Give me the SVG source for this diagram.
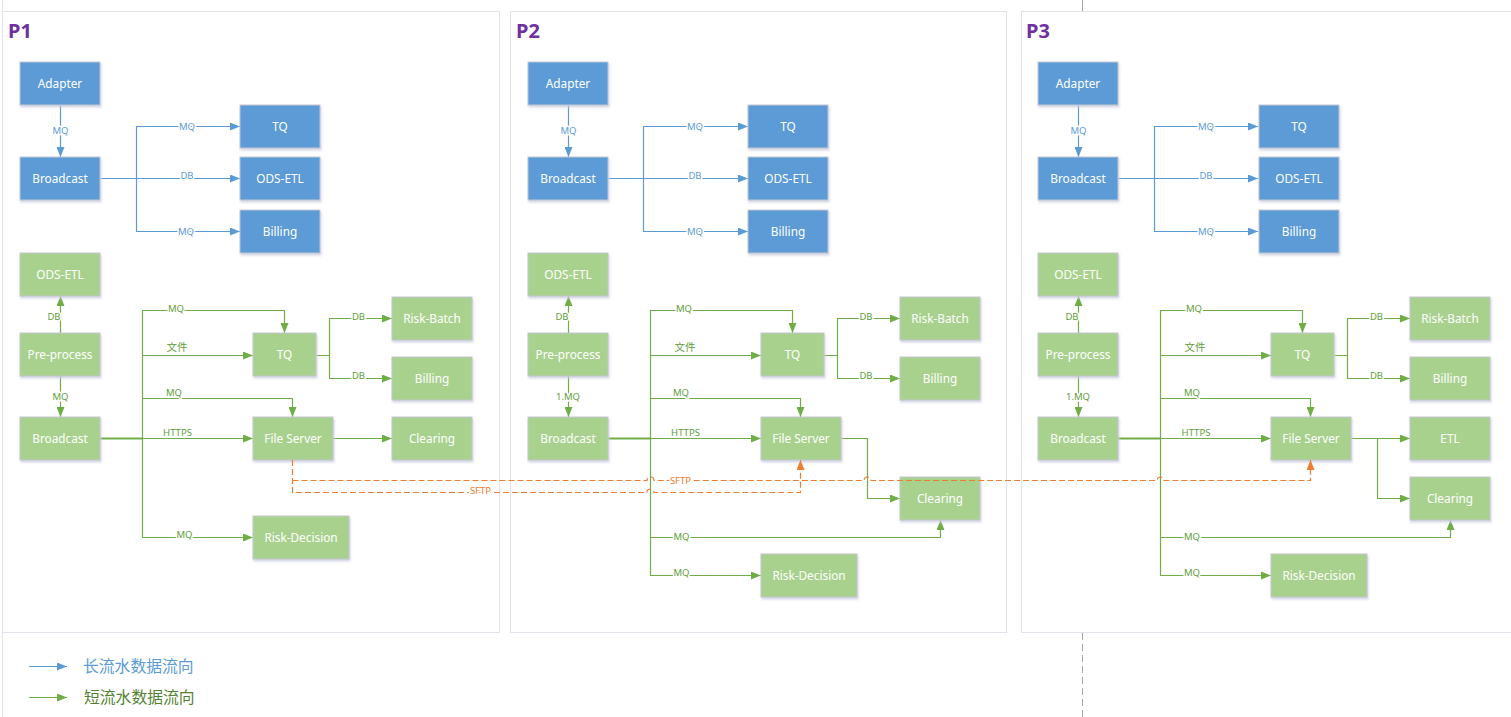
<svg xmlns="http://www.w3.org/2000/svg" width="1511" height="717" viewBox="0 0 1511 717">
  <defs>
    <style>
      .frame { fill: none; stroke: #E2E2EA; stroke-width: 1; }
      .title { font-family: "Noto Sans", "Open Sans", sans-serif; font-weight: bold; font-size: 20px; fill: #7030A0; }
      .bx rect { stroke: #C4C6CF; stroke-width: 1; filter: url(#sh); }
      .b rect { fill: #5B9BD5; }
      .g rect { fill: #A9D18E; }
      .bx text { font-family: "Noto Sans", "Open Sans", sans-serif; font-size: 11.8px; fill: #FFFFFF; text-anchor: middle; }
      .cb, .cg, .co { fill: none; stroke-width: 1.2; }
      .cb { stroke: #5B9BD5; marker-end: url(#ab); }
      .cg { stroke: #70AD47; marker-end: url(#ag); }
      .thick { stroke-width: 1.8; }
      .co { stroke: #ED7D31; stroke-dasharray: 6 3; marker-end: url(#ao); }
      .lbl { font-family: "Noto Sans", "Open Sans", "Noto Sans CJK SC", sans-serif; font-size: 9.5px; text-anchor: middle; stroke: #FFFFFF; stroke-width: 3; stroke-linejoin: round; paint-order: stroke; }
      .lb { fill: #5B9BD5; }
      .lg { fill: #5E9E3A; }
      .lo { fill: #ED7D31; }
      .cjk { font-family: "Noto Sans CJK SC", sans-serif; font-size: 10.5px; stroke: none; }
      .leg { font-family: "Noto Sans CJK SC", sans-serif; font-size: 15.8px; }
    </style>
    <filter id="sh" x="-10%" y="-10%" width="130%" height="140%">
      <feDropShadow dx="1" dy="2" stdDeviation="1" flood-color="#C9CCE0" flood-opacity="0.8"/>
    </filter>
    <marker id="ab" viewBox="0 0 10 8" markerUnits="userSpaceOnUse" markerWidth="10" markerHeight="8" refX="10" refY="4" orient="auto">
      <path d="M0,0 L10,4 L0,8 z" fill="#5B9BD5"/>
    </marker>
    <marker id="ag" viewBox="0 0 10 8" markerUnits="userSpaceOnUse" markerWidth="10" markerHeight="8" refX="10" refY="4" orient="auto">
      <path d="M0,0 L10,4 L0,8 z" fill="#70AD47"/>
    </marker>
    <marker id="ao" viewBox="0 0 10 8" markerUnits="userSpaceOnUse" markerWidth="10" markerHeight="8" refX="10" refY="4" orient="auto">
      <path d="M0,0 L10,4 L0,8 z" fill="#ED7D31"/>
    </marker>
  </defs>

  <rect width="1511" height="717" fill="#FFFFFF"/>

  <!-- page margin and panel frames -->
  <path d="M2.5,0 V717" class="frame"/>
  <rect x="2.5" y="11.5" width="497" height="621" class="frame"/>
  <rect x="510.5" y="11.5" width="496" height="621" class="frame"/>
  <rect x="1021.5" y="11.5" width="500" height="621" class="frame"/>
  <path d="M1082.5,0 V11" stroke="#A6A6A6" stroke-width="1" fill="none"/>
  <path d="M1082.5,633 V717" stroke="#A6A6A6" stroke-width="1" stroke-dasharray="7 4" fill="none"/>

  <!-- ============ P1 ============ -->
  <g id="panel-p1">
    <text x="8" y="38" class="title">P1</text>
    <g id="p1-connectors">
      <path class="cb" d="M60.5,105 V157"/>
      <path class="cb" d="M100,178.5 H240"/>
      <path class="cb" d="M136.5,178.5 V126.5 H240"/>
      <path class="cb" d="M136.5,178.5 V231.5 H240"/>
      <text class="lbl lb" x="60.5" y="133.5">MQ</text>
      <text class="lbl lb" x="187" y="129.8">MQ</text>
      <text class="lbl lb" x="187" y="179">DB</text>
      <text class="lbl lb" x="186" y="234.8">MQ</text>

      <path class="cg" d="M60.5,333 V296"/>
      <path class="cg" d="M60.5,376 V417"/>
      <path class="cg" d="M100,438.5 H253"/>
      <path class="cg thick" d="M100,438.5 H142.5" style="marker-end:none"/>
      <path class="cg" d="M142.5,438.5 V310.5 H284.5 V333"/>
      <path class="cg" d="M142.5,355.5 H253"/>
      <path class="cg" d="M142.5,398.5 H292.5 V417"/>
      <path class="cg" d="M142.5,438.5 V537.5 H253"/>
      <path class="cg" d="M316,355.5 H329.5 V318.5 H392"/>
      <path class="cg" d="M329.5,355.5 V378.5 H392"/>
      <path class="cg" d="M333,438.5 H392"/>
      <text class="lbl lg" x="54" y="320">DB</text>
      <text class="lbl lg" x="60.5" y="400.3">MQ</text>
      <text class="lbl lg" x="176" y="312">MQ</text>
      <text class="lbl lg cjk" x="177" y="351">文件</text>
      <text class="lbl lg" x="174" y="396">MQ</text>
      <text class="lbl lg" x="177.5" y="436">HTTPS</text>
      <text class="lbl lg" x="184.5" y="538">MQ</text>
      <text class="lbl lg" x="358.5" y="320">DB</text>
      <text class="lbl lg" x="358.5" y="379">DB</text>
    </g>
    <g id="p1-adapter" class="bx b"><rect x="20" y="62" width="80" height="43"/><text x="60" y="87.5">Adapter</text></g>
    <g id="p1-broadcast-long" class="bx b"><rect x="20" y="157" width="80" height="43"/><text x="60" y="182.5">Broadcast</text></g>
    <g id="p1-tq-long" class="bx b"><rect x="240" y="105" width="80" height="43"/><text x="280" y="130.5">TQ</text></g>
    <g id="p1-odsetl-long" class="bx b"><rect x="240" y="157" width="80" height="43"/><text x="280" y="182.5">ODS-ETL</text></g>
    <g id="p1-billing-long" class="bx b"><rect x="240" y="210" width="80" height="43"/><text x="280" y="235.5">Billing</text></g>
    <g id="p1-odsetl" class="bx g"><rect x="20" y="253" width="80" height="43"/><text x="60" y="278.5">ODS-ETL</text></g>
    <g id="p1-preprocess" class="bx g"><rect x="20" y="333" width="80" height="43"/><text x="60" y="358.5">Pre-process</text></g>
    <g id="p1-broadcast" class="bx g"><rect x="20" y="417" width="80" height="43"/><text x="60" y="442.5">Broadcast</text></g>
    <g id="p1-tq" class="bx g"><rect x="253" y="333" width="63" height="43"/><text x="284.5" y="358.5">TQ</text></g>
    <g id="p1-fileserver" class="bx g"><rect x="253" y="417" width="80" height="43"/><text x="293" y="442.5">File Server</text></g>
    <g id="p1-riskdecision" class="bx g"><rect x="253" y="516" width="96" height="43"/><text x="301" y="541.5">Risk-Decision</text></g>
    <g id="p1-riskbatch" class="bx g"><rect x="392" y="297" width="80" height="43"/><text x="432" y="322.5">Risk-Batch</text></g>
    <g id="p1-billing" class="bx g"><rect x="392" y="357" width="80" height="43"/><text x="432" y="382.5">Billing</text></g>
    <g id="p1-clearing" class="bx g"><rect x="392" y="417" width="80" height="43"/><text x="432" y="442.5">Clearing</text></g>
  </g>

  <!-- ============ P2 ============ -->
  <g id="panel-p2" transform="translate(508,0)">
    <text x="8" y="38" class="title">P2</text>
    <g id="p2-connectors">
      <path class="cb" d="M60.5,105 V157"/>
      <path class="cb" d="M100,178.5 H240"/>
      <path class="cb" d="M135.5,178.5 V126.5 H240"/>
      <path class="cb" d="M135.5,178.5 V231.5 H240"/>
      <text class="lbl lb" x="60.5" y="133.5">MQ</text>
      <text class="lbl lb" x="187" y="129.8">MQ</text>
      <text class="lbl lb" x="187" y="179">DB</text>
      <text class="lbl lb" x="187" y="234.8">MQ</text>

      <path class="cg" d="M60.5,333 V296"/>
      <path class="cg" d="M60.5,376 V417"/>
      <path class="cg" d="M100,438.5 H253"/>
      <path class="cg thick" d="M100,438.5 H142.5" style="marker-end:none"/>
      <path class="cg" d="M142.5,438.5 V310.5 H284.5 V333"/>
      <path class="cg" d="M142.5,355.5 H253"/>
      <path class="cg" d="M142.5,398.5 H292.5 V417"/>
      <path class="cg" d="M142.5,438.5 V575.5 H253"/>
      <path class="cg" d="M142.5,537.5 H432.5 V520"/>
      <path class="cg" d="M316,355.5 H329.5 V318.5 H392"/>
      <path class="cg" d="M329.5,355.5 V378.5 H392"/>
      <path class="cg" d="M333,438.5 H359.5 V498.5 H392"/>
      <text class="lbl lg" x="54" y="320">DB</text>
      <text class="lbl lg" x="60" y="400.3">1.MQ</text>
      <text class="lbl lg" x="176" y="312">MQ</text>
      <text class="lbl lg cjk" x="177" y="351">文件</text>
      <text class="lbl lg" x="173" y="396">MQ</text>
      <text class="lbl lg" x="177.5" y="436">HTTPS</text>
      <text class="lbl lg" x="173.5" y="540">MQ</text>
      <text class="lbl lg" x="173.5" y="576">MQ</text>
      <text class="lbl lg" x="358" y="320">DB</text>
      <text class="lbl lg" x="358" y="379">DB</text>
    </g>
    <g id="p2-adapter" class="bx b"><rect x="20" y="62" width="80" height="43"/><text x="60" y="87.5">Adapter</text></g>
    <g id="p2-broadcast-long" class="bx b"><rect x="20" y="157" width="80" height="43"/><text x="60" y="182.5">Broadcast</text></g>
    <g id="p2-tq-long" class="bx b"><rect x="240" y="105" width="80" height="43"/><text x="280" y="130.5">TQ</text></g>
    <g id="p2-odsetl-long" class="bx b"><rect x="240" y="157" width="80" height="43"/><text x="280" y="182.5">ODS-ETL</text></g>
    <g id="p2-billing-long" class="bx b"><rect x="240" y="210" width="80" height="43"/><text x="280" y="235.5">Billing</text></g>
    <g id="p2-odsetl" class="bx g"><rect x="20" y="253" width="80" height="43"/><text x="60" y="278.5">ODS-ETL</text></g>
    <g id="p2-preprocess" class="bx g"><rect x="20" y="333" width="80" height="43"/><text x="60" y="358.5">Pre-process</text></g>
    <g id="p2-broadcast" class="bx g"><rect x="20" y="417" width="80" height="43"/><text x="60" y="442.5">Broadcast</text></g>
    <g id="p2-tq" class="bx g"><rect x="253" y="333" width="63" height="43"/><text x="284.5" y="358.5">TQ</text></g>
    <g id="p2-fileserver" class="bx g"><rect x="253" y="417" width="80" height="43"/><text x="293" y="442.5">File Server</text></g>
    <g id="p2-riskdecision" class="bx g"><rect x="253" y="554" width="96" height="43"/><text x="301" y="579.5">Risk-Decision</text></g>
    <g id="p2-riskbatch" class="bx g"><rect x="392" y="297" width="80" height="43"/><text x="432" y="322.5">Risk-Batch</text></g>
    <g id="p2-billing" class="bx g"><rect x="392" y="357" width="80" height="43"/><text x="432" y="382.5">Billing</text></g>
    <g id="p2-clearing" class="bx g"><rect x="392" y="477" width="80" height="43"/><text x="432" y="502.5">Clearing</text></g>
  </g>

  <!-- ============ P3 ============ -->
  <g id="panel-p3" transform="translate(1018,0)">
    <text x="8" y="38" class="title">P3</text>
    <g id="p3-connectors">
      <path class="cb" d="M60.5,105 V157"/>
      <path class="cb" d="M100,178.5 H240"/>
      <path class="cb" d="M136.5,178.5 V126.5 H240"/>
      <path class="cb" d="M136.5,178.5 V231.5 H240"/>
      <text class="lbl lb" x="60.5" y="133.5">MQ</text>
      <text class="lbl lb" x="188" y="129.8">MQ</text>
      <text class="lbl lb" x="188" y="179">DB</text>
      <text class="lbl lb" x="188" y="234.8">MQ</text>

      <path class="cg" d="M60.5,333 V296"/>
      <path class="cg" d="M60.5,376 V417"/>
      <path class="cg" d="M100,438.5 H253"/>
      <path class="cg thick" d="M100,438.5 H142.5" style="marker-end:none"/>
      <path class="cg" d="M142.5,438.5 V310.5 H284.5 V333"/>
      <path class="cg" d="M142.5,355.5 H253"/>
      <path class="cg" d="M142.5,398.5 H292.5 V417"/>
      <path class="cg" d="M142.5,438.5 V575.5 H253"/>
      <path class="cg" d="M142.5,537.5 H432.5 V520"/>
      <path class="cg" d="M316,355.5 H329.5 V318.5 H392"/>
      <path class="cg" d="M329.5,355.5 V378.5 H392"/>
      <path class="cg" d="M333,438.5 H392"/>
      <path class="cg" d="M359.5,438.5 V498.5 H392"/>
      <text class="lbl lg" x="54" y="320">DB</text>
      <text class="lbl lg" x="60" y="400.3">1.MQ</text>
      <text class="lbl lg" x="176" y="312">MQ</text>
      <text class="lbl lg cjk" x="177" y="351">文件</text>
      <text class="lbl lg" x="174" y="396">MQ</text>
      <text class="lbl lg" x="178" y="436">HTTPS</text>
      <text class="lbl lg" x="174" y="540">MQ</text>
      <text class="lbl lg" x="174" y="576">MQ</text>
      <text class="lbl lg" x="358.5" y="320">DB</text>
      <text class="lbl lg" x="358.5" y="379">DB</text>
    </g>
    <g id="p3-adapter" class="bx b"><rect x="20" y="62" width="80" height="43"/><text x="60" y="87.5">Adapter</text></g>
    <g id="p3-broadcast-long" class="bx b"><rect x="20" y="157" width="80" height="43"/><text x="60" y="182.5">Broadcast</text></g>
    <g id="p3-tq-long" class="bx b"><rect x="241" y="105" width="80" height="43"/><text x="281" y="130.5">TQ</text></g>
    <g id="p3-odsetl-long" class="bx b"><rect x="241" y="157" width="80" height="43"/><text x="281" y="182.5">ODS-ETL</text></g>
    <g id="p3-billing-long" class="bx b"><rect x="241" y="210" width="80" height="43"/><text x="281" y="235.5">Billing</text></g>
    <g id="p3-odsetl" class="bx g"><rect x="20" y="253" width="80" height="43"/><text x="60" y="278.5">ODS-ETL</text></g>
    <g id="p3-preprocess" class="bx g"><rect x="20" y="333" width="80" height="43"/><text x="60" y="358.5">Pre-process</text></g>
    <g id="p3-broadcast" class="bx g"><rect x="20" y="417" width="80" height="43"/><text x="60" y="442.5">Broadcast</text></g>
    <g id="p3-tq" class="bx g"><rect x="253" y="333" width="63" height="43"/><text x="284.5" y="358.5">TQ</text></g>
    <g id="p3-fileserver" class="bx g"><rect x="253" y="417" width="80" height="43"/><text x="293" y="442.5">File Server</text></g>
    <g id="p3-riskdecision" class="bx g"><rect x="253" y="554" width="96" height="43"/><text x="301" y="579.5">Risk-Decision</text></g>
    <g id="p3-riskbatch" class="bx g"><rect x="392" y="297" width="80" height="43"/><text x="432" y="322.5">Risk-Batch</text></g>
    <g id="p3-billing" class="bx g"><rect x="392" y="357" width="80" height="43"/><text x="432" y="382.5">Billing</text></g>
    <g id="p3-etl" class="bx g"><rect x="392" y="417" width="80" height="43"/><text x="432" y="442.5">ETL</text></g>
    <g id="p3-clearing" class="bx g"><rect x="392" y="477" width="80" height="43"/><text x="432" y="502.5">Clearing</text></g>
  </g>

  <!-- SFTP transfers from the P1 file server to the later file servers (with line hops) -->
  <g id="sftp-connectors">
    <path class="co" d="M292.5,460 V492.5 H647 a3.5,3.5 0 0 1 7,0 H800.5 V460"/>
    <path class="co" d="M292.5,480.5 H647 a3.5,3.5 0 0 1 7,0 H864 a3.5,3.5 0 0 1 7,0 H1157 a3.5,3.5 0 0 1 7,0 H1310.5 V460"/>
    <text class="lbl lo" x="480.5" y="493.5">SFTP</text>
    <text class="lbl lo" x="680.5" y="483.5">SFTP</text>
  </g>

  <!-- legend -->
  <g id="legend">
    <path class="cb" d="M29,666.5 H67"/>
    <text class="leg" x="83" y="671.5" fill="#5B9BD5">长流水数据流向</text>
    <path class="cg" d="M29,697.5 H67"/>
    <text class="leg" x="84" y="702.5" fill="#548235">短流水数据流向</text>
  </g>
</svg>
